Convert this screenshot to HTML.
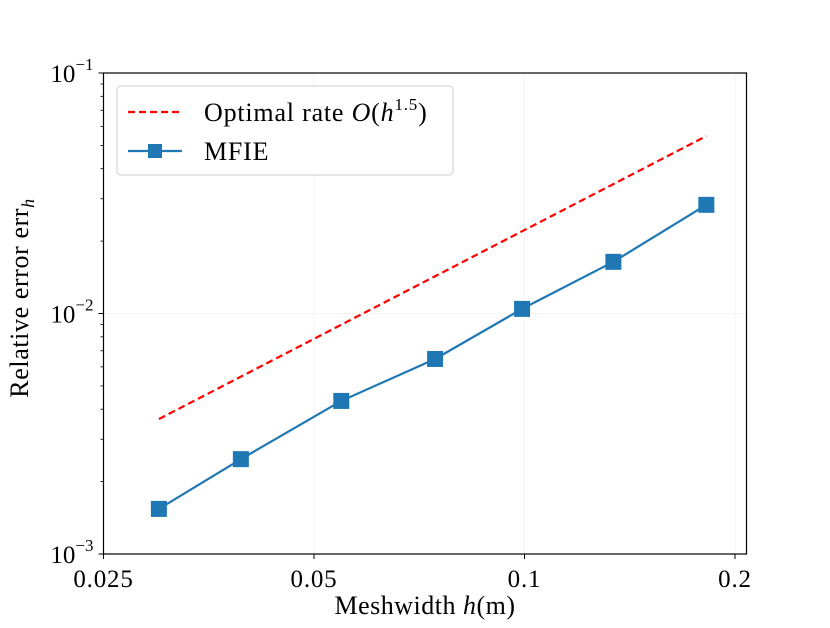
<!DOCTYPE html>
<html><head><meta charset="utf-8"><style>
body{margin:0;background:#fff;}
svg text{font-family:"Liberation Serif","DejaVu Serif",serif;fill:#000;}
</style></head><body>
<svg id="chart" width="830" height="623" viewBox="0 0 830 623" xmlns="http://www.w3.org/2000/svg">
<rect width="830" height="623" fill="#fff"/>
<g id="grid"></g>
<g id="series"></g>
<rect x="103.5" y="73" width="643" height="481" fill="none" stroke="#000" stroke-width="1.2"/>
<g id="ticks"></g>
<text x="425" y="614" font-size="26" letter-spacing="0.5" text-anchor="middle">Meshwidth <tspan font-style="italic">h</tspan>(m)</text>
<text transform="translate(28,298) rotate(-90)" font-size="26" letter-spacing="0.6" text-anchor="middle">Relative error err<tspan font-style="italic" font-size="18" dy="6">h</tspan></text>
<g>
<rect x="117" y="86" width="336" height="89" rx="4" fill="#fff" fill-opacity="0.8" stroke="#ccc" stroke-width="1"/>
<line x1="128" y1="112" x2="182" y2="112" stroke="#ff0000" stroke-width="2.2" stroke-dasharray="7,4"/>
<text x="204" y="121" font-size="26" letter-spacing="0.8">Optimal rate <tspan font-style="italic">O</tspan>(<tspan font-style="italic">h</tspan><tspan font-size="17" dy="-11">1.5</tspan><tspan dy="11">)</tspan></text>
<line x1="128" y1="151" x2="182" y2="151" stroke="#1f77b4" stroke-width="2.2"/>
<rect x="148" y="144" width="14" height="14" fill="#1f77b4"/>
<text x="204" y="160" font-size="26" letter-spacing="0.8">MFIE</text>
</g>
</svg>
<script>
const hValues = [0.0300, 0.0393, 0.0547, 0.0745, 0.0992, 0.134, 0.182];
const mfieErrors = [1.54e-3, 2.48e-3, 4.33e-3, 6.47e-3, 1.045e-2, 1.64e-2, 2.83e-2];
const rateH = [0.0300, 0.182];
const rateErr = [3.64e-3, 5.47e-2];
const xTickValues = [0.025, 0.05, 0.1, 0.2];
const xTickLabels = ["0.025", "0.05", "0.1", "0.2"];
const yTickExps = [-3, -2, -1];

const L=103.5,R=746.5,T=73,B=554;
const xMin=0.025, xDec=210.5/Math.log10(2);
const yMinE=-3, yMaxE=-1;
function xs(v){return L+Math.log10(v/xMin)*xDec;}
function ys(v){return B-(Math.log10(v)-yMinE)/(yMaxE-yMinE)*(B-T);}
const NS="http://www.w3.org/2000/svg";
function mk(tag,attrs,parent){const e=document.createElementNS(NS,tag);for(const k in attrs)e.setAttribute(k,attrs[k]);parent.appendChild(e);return e;}
const grid=document.getElementById('grid'),ticks=document.getElementById('ticks'),series=document.getElementById('series');

xTickValues.forEach((v,i)=>{
  const x=xs(v);
  const g=mk('line',{x1:x,x2:x,y1:T,y2:B,stroke:'#f0f0f0','stroke-width':0.8},grid);
  
  
  const t=mk('line',{x1:x,x2:x,y1:B,y2:B+5,stroke:'#000','stroke-width':1},ticks);
  
  
  const lb=mk('text',{x:x,y:B+33,'font-size':25,'letter-spacing':0.8,'text-anchor':'middle'},ticks);
  lb.textContent=xTickLabels[i];
  
  
});
yTickExps.forEach(e=>{
  const y=ys(Math.pow(10,e));
  const g=mk('line',{x1:L,x2:R,y1:y,y2:y,stroke:'#f0f0f0','stroke-width':0.8},grid);
  
  
  const t=mk('line',{x1:L-5,x2:L,y1:y,y2:y,stroke:'#000','stroke-width':1},ticks);
  
  
  const lb=mk('text',{x:L-10,y:y+9,'font-size':25,'text-anchor':'end'},ticks);
  lb.innerHTML='10<tspan font-size="17" dy="-12">−'+(-e)+'</tspan>';
  
  
  if(e<yMaxE){for(let m=2;m<=9;m++){const yy=ys(m*Math.pow(10,e));
    const mt=mk('line',{x1:L-3,x2:L,y1:yy,y2:yy,stroke:'#000','stroke-width':0.8},ticks);
    
    }}
});
const rl=mk('line',{x1:xs(rateH[0]),y1:ys(rateErr[0]),x2:xs(rateH[1]),y2:ys(rateErr[1]),stroke:'#ff0000','stroke-width':2.2,'stroke-dasharray':'7,4'},series);


const pts=hValues.map((h,i)=>xs(h)+','+ys(mfieErrors[i])).join(' ');
const pl=mk('polyline',{points:pts,fill:'none',stroke:'#1f77b4','stroke-width':2.2},series);


hValues.forEach((h,i)=>{
  const r=mk('rect',{x:xs(h)-8,y:ys(mfieErrors[i])-8,width:16,height:16,fill:'#1f77b4'},series);
  
  
});
</script>
</body></html>
